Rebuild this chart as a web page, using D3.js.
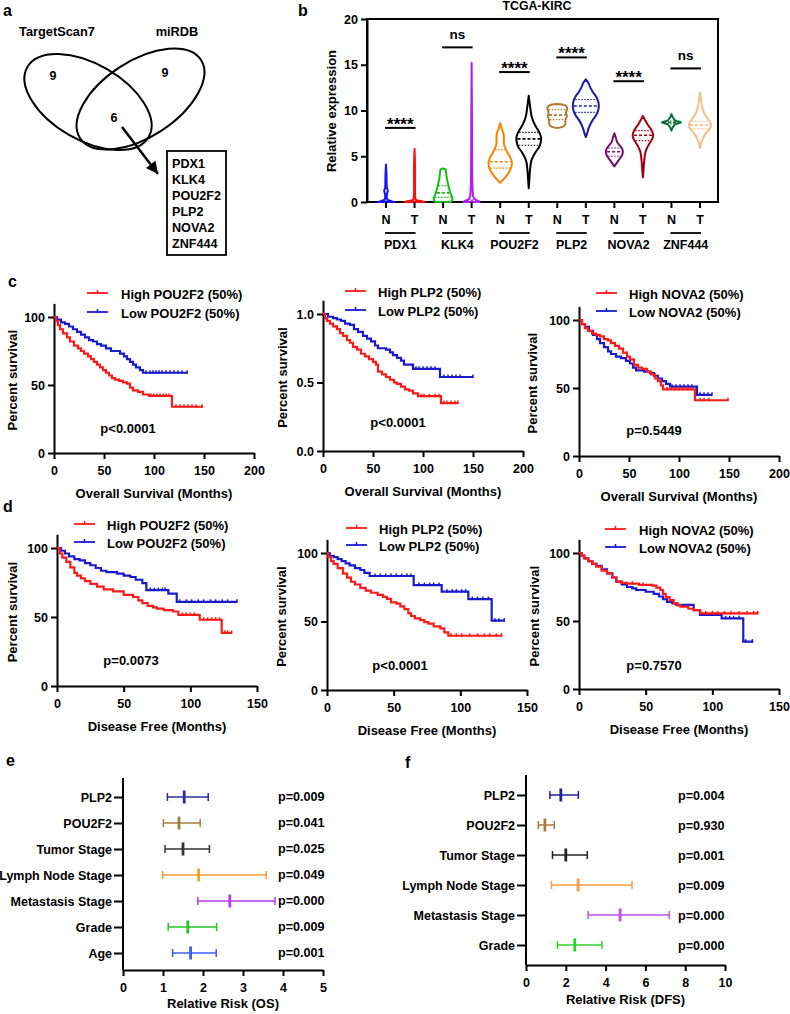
<!DOCTYPE html>
<html><head><meta charset="utf-8">
<script src="https://cdn.jsdelivr.net/npm/d3@7"></script>
<style>
body{margin:0;background:#fff;}
svg{display:block;font-family:"Liberation Sans",Arial,sans-serif;font-weight:bold;}
</style></head><body>
<svg id="chart" width="790" height="1014"></svg>
<script>
// ---------------- DATA ----------------
const vennSets = ["TargetScan7", "miRDB"];
const vennCounts = [9, 9, 6];
const vennGenes = ["PDX1", "KLK4", "POU2F2", "PLP2", "NOVA2", "ZNF444"];

const exprTitle = "TCGA-KIRC";
const exprGenes = ["PDX1", "KLK4", "POU2F2", "PLP2", "NOVA2", "ZNF444"];
const exprConds = ["N", "T"];
const exprTicks = [0, 5, 10, 15, 20];
const violinColors = ["#1414ff", "#ff1010", "#10c010", "#b01ef0", "#ff8000", "#000000",
                      "#b07830", "#1c1c9c", "#720f72", "#a00010", "#0a6e3c", "#f8c088"];
// [value, relative density]
const violinDensity = [
  [[0,0.65],[0.1,0.4],[0.25,0.12],[0.5,0.06],[0.9,0.08],[1.25,0.14],[1.55,0.07],[2,0.05],[3,0.04],[4.1,0]],
  [[0,0.77],[0.1,0.5],[0.25,0.1],[0.6,0.05],[2,0.04],[4,0.04],[5.8,0]],
  [[0,0.6],[0.3,0.72],[0.6,0.68],[1.0,0.55],[1.3,0.5],[1.7,0.42],[2.1,0.36],[2.5,0.3],[2.9,0.26],[3.3,0.22],[3.55,0.2],[3.65,0]],
  [[0,0.62],[0.1,0.55],[0.3,0.25],[0.6,0.12],[1,0.09],[1.6,0.07],[2.5,0.05],[4,0.04],[8,0.03],[15.2,0]],
  [[2.1,0],[2.4,0.2],[2.8,0.45],[3.3,0.7],[3.8,0.85],[4.3,0.9],[4.8,0.8],[5.3,0.6],[5.8,0.42],[6.3,0.3],[6.8,0.28],[7.3,0.28],[7.7,0.2],[8.1,0.1],[8.6,0]],
  [[1.5,0],[2.5,0.05],[3.5,0.1],[4.5,0.2],[5.0,0.35],[5.5,0.55],[6.0,0.8],[6.5,0.92],[7.0,0.95],[7.5,0.85],[8.0,0.65],[8.5,0.45],[9.0,0.3],[9.5,0.2],[10.5,0.1],[11.6,0]],
  [[8.1,0],[8.25,0.45],[8.5,0.62],[8.8,0.62],[9.1,0.66],[9.4,0.74],[9.7,0.66],[10.0,0.72],[10.3,0.76],[10.55,0.6],[10.7,0]],
  [[7.1,0],[7.5,0.1],[8.0,0.2],[8.5,0.35],[9.0,0.55],[9.5,0.8],[10.0,0.95],[10.5,1.0],[11.0,0.95],[11.5,0.8],[12.0,0.55],[12.5,0.35],[13.0,0.2],[13.4,0]],
  [[3.9,0],[4.2,0.15],[4.6,0.35],[5.0,0.55],[5.4,0.65],[5.8,0.6],[6.2,0.4],[6.6,0.2],[7.0,0.12],[7.5,0]],
  [[2.7,0],[3.5,0.05],[4.5,0.1],[5.5,0.2],[6.0,0.35],[6.5,0.55],[7.0,0.75],[7.5,0.77],[8.0,0.6],[8.5,0.35],[9.0,0.15],[9.4,0]],
  [[7.8,0],[8.2,0.12],[8.5,0.3],[8.7,0.73],[8.9,0.3],[9.2,0.12],[9.6,0]],
  [[5.9,0],[6.5,0.1],[7.0,0.25],[7.5,0.45],[8.0,0.75],[8.4,0.85],[8.8,0.75],[9.3,0.5],[9.8,0.3],[10.5,0.15],[11.2,0.08],[12.0,0]]
];
// [q1, median, q3]
const violinQuartiles = [
  [0.02,0.05,0.1],[0.02,0.05,0.1],[0.5,1.0,1.8],[0.05,0.1,0.3],
  [3.7,4.4,5.7],[6.2,6.9,7.6],[9.0,9.5,10.1],[9.8,10.5,11.2],
  [5.0,5.5,5.9],[6.7,7.3,7.8],[8.55,8.7,8.85],[8.0,8.4,8.8]
];
const sigLabels = ["****", "ns", "****", "****", "****", "ns"];
const sigLevel = [8.1, 16.9, 14.2, 15.8, 13.2, 14.6];

// Kaplan-Meier: [months, survival]
const osPOU2F2High = [[0,100],[2,97],[4,94],[6,91],[9,88],[13,85],[16,82],[20,79],[24,77],[27,75],[30,73],[34,71],[37,69],[40,67],[43,65],[46,63],[49,61],[52,59],[55,57],[58,55],[61,54],[65,53],[69,52],[73,51],[76,48],[79,46],[84,45],[89,43],[95,42],[118,34],[149,34]];
const osPOU2F2Low = [[0,100],[3,98],[7,96],[11,95],[15,93],[19,91],[23,89],[27,87],[31,85],[35,83],[39,82],[43,80],[47,79],[52,77],[57,75],[66,73],[70,71],[73,69],[76,67],[79,65],[82,63],[86,61],[89,59],[134,59]];
const osPOU2F2HighCens = [97,100,103,106,109,112,115,122,126,130,134,138,142,148];
const osPOU2F2LowCens = [92,96,99,102,105,108,112,116,120,124,128,133];
const osPLP2High = [[0,1.0],[2,0.97],[4,0.95],[7,0.93],[10,0.91],[14,0.89],[17,0.86],[20,0.84],[24,0.81],[27,0.79],[30,0.76],[34,0.74],[38,0.71],[42,0.69],[46,0.67],[50,0.65],[53,0.63],[55,0.58],[59,0.56],[63,0.54],[67,0.52],[71,0.50],[74,0.49],[78,0.47],[82,0.45],[86,0.44],[90,0.42],[95,0.40],[118,0.35],[135,0.35]];
const osPLP2Low = [[0,1.0],[5,0.98],[10,0.97],[14,0.96],[18,0.95],[22,0.93],[27,0.92],[31,0.89],[35,0.87],[40,0.84],[44,0.82],[48,0.80],[52,0.77],[55,0.75],[63,0.74],[67,0.72],[70,0.70],[74,0.68],[78,0.66],[81,0.63],[90,0.60],[117,0.54],[150,0.54]];
const osPLP2HighCens = [98,101,106,112,116,121,124,128,132,135];
const osPLP2LowCens = [93,96,100,104,108,112,121,125,129,133,137,150];
const osNOVA2High = [[0,100],[3,97],[6,94],[9,92],[13,90],[17,89],[21,88],[25,86],[29,85],[32,83],[36,81],[40,79],[44,76],[48,73],[51,71],[55,67],[59,65],[63,64],[68,62],[72,60],[76,57],[79,55],[82,52],[84,49],[116,41],[149,41]];
const osNOVA2Low = [[0,100],[3,97],[6,95],[10,92],[14,89],[18,86],[21,83],[25,80],[29,77],[32,75],[37,73],[42,72],[47,70],[51,68],[54,65],[57,63],[65,62],[71,61],[75,59],[79,57],[83,55],[87,53],[91,51],[118,45],[133,45]];
const osNOVA2HighCens = [88,92,96,100,104,108,112,121,125,130,149];
const osNOVA2LowCens = [93,97,101,105,109,113,121,125,129,133];

const dfsPOU2F2High = [[0,100],[2,96],[4,93],[7,90],[10,86],[13,82],[15,80],[18,78],[21,76],[25,74],[30,72],[35,70],[42,68.5],[50,66],[57,64.5],[61,62],[64,60],[68,58],[72,57],[75,56],[80,55],[87,54],[91,51.5],[107,48],[123.5,38.5],[131,38.5]];
const dfsPOU2F2Low = [[0,100],[3,98],[6,96],[9,94],[13,92],[17,91],[21,89],[25,87.5],[29,85.5],[33,83.5],[37,82.5],[45,81.5],[50,80],[55,79],[59,77],[64,74.5],[67,69.5],[83.5,67],[89.8,61],[135,61]];
const dfsPOU2F2HighCens = [94,97,100,103,110,113,116,119,122,126,128,131];
const dfsPOU2F2LowCens = [70,73,76,79,81,92,97,101,106,110,115,119,124,128,135];
const dfsPLP2High = [[0,100],[1,97],[3,94],[5,92],[8,89],[12,85],[15,82],[18,79],[21,77],[25,74.5],[29,72.5],[33,71],[38,69.5],[42,68],[45,66.5],[48,64],[52,63],[55,61],[58,59],[61,56],[63,54],[66,52.3],[70,51],[73,49.5],[76,48.5],[80,46.5],[85,45],[88,42],[91,39.6],[131,39.6]];
const dfsPLP2Low = [[0,100],[2,98],[5,97],[8,95.5],[11,94],[14,92.5],[17,91],[21,89],[25,87.6],[28,85.5],[32,83.2],[65,76.6],[86,71.8],[106,66.4],[123.5,50.6],[133.5,50.6]];
const dfsPLP2HighCens = [93,97,101,107,113,118,122,127,131];
const dfsPLP2LowCens = [36,40,44,48,52,56,60,63,69,73,77,80,84,90,94,97,101,104,109,113,117,121,126,129,133];
const dfsNOVA2High = [[0,100],[2,98],[4,96],[7,94],[10,92],[13,90],[17,87],[21,85],[25,82],[28,79],[32,78],[36,77.5],[45,76.5],[55,76],[58,74.5],[61,72.8],[63,70],[65,67.5],[68,65.4],[71,63],[74,61.5],[76,60.5],[82,59],[86,58],[91,55.6],[134.5,55.6]];
const dfsNOVA2Low = [[0,100],[2,98],[4,96],[7,94],[10,92],[13,90.5],[17,88],[21,85],[25,82],[28,79],[32,77],[36,75],[40,74],[43,72.8],[50,71.5],[56,70],[60,68],[63,66],[66,64],[70,63],[73,61.8],[86,58],[90.7,54.4],[107,52],[123.2,34.8],[130.7,34.8]];
const dfsNOVA2HighCens = [40,48,95,100,104,109,114,120,126,131,134];
const dfsNOVA2LowCens = [92,96,100,104,110,113,116,120,125,130];

const osFactors = ["PLP2", "POU2F2", "Tumor Stage", "Lymph Node Stage", "Metastasis Stage", "Grade", "Age"];
const osRR = [1.53, 1.40, 1.50, 1.89, 2.67, 1.62, 1.69];
const osLow = [1.11, 1.01, 1.05, 0.99, 1.87, 1.13, 1.24];
const osHigh = [2.13, 1.93, 2.16, 3.58, 3.80, 2.34, 2.33];
const osP = ["p=0.009", "p=0.041", "p=0.025", "p=0.049", "p=0.000", "p=0.009", "p=0.001"];
const osColors = ["#2b2b9b", "#a67c3c", "#333333", "#ff9a30", "#b63ae8", "#22c422", "#3c5cff"];
const osTicks = [0, 1, 2, 3, 4, 5];

const dfsFactors = ["PLP2", "POU2F2", "Tumor Stage", "Lymph Node Stage", "Metastasis Stage", "Grade"];
const dfsRR = [1.75, 0.95, 2.0, 2.62, 4.73, 2.45];
const dfsLow = [1.2, 0.62, 1.33, 1.28, 3.12, 1.58];
const dfsHigh = [2.63, 1.42, 3.08, 5.33, 7.2, 3.82];
const dfsP = ["p=0.004", "p=0.930", "p=0.001", "p=0.009", "p=0.000", "p=0.000"];
const dfsColors = ["#1f1f95", "#a67c3c", "#222222", "#ff9a40", "#c050f0", "#30d030"];
const dfsTicks = [0, 2, 4, 6, 8, 10];

// ---------------- DRAW ----------------
const svg = d3.select("#chart");
const RED = "#ff1a1a", BLUE = "#1a1acc";
const FS = 13;

function panelLabel(t, x, y) {
  svg.append("text").attr("x", x).attr("y", y).attr("font-size", 16).text(t);
}
function styleAxis(g, fs) {
  g.selectAll("path.domain").attr("stroke", "#000").attr("stroke-width", 2);
  g.selectAll(".tick line").attr("stroke", "#000").attr("stroke-width", 2);
  g.selectAll(".tick text").attr("fill", "#000").attr("font-size", fs || 12)
    .attr("font-family", '"Liberation Sans",Arial,sans-serif').attr("font-weight", "bold");
}

// ---- panel a: Venn ----
panelLabel("a", 3, 16);
svg.append("text").attr("x", 57).attr("y", 36).attr("text-anchor", "middle").attr("font-size", 12.8).text(vennSets[0]);
svg.append("text").attr("x", 177).attr("y", 36).attr("text-anchor", "middle").attr("font-size", 12.8).text(vennSets[1]);
svg.append("ellipse").attr("cx", 0).attr("cy", 0).attr("rx", 70).attr("ry", 38)
  .attr("transform", "translate(88,102) rotate(30)").attr("fill", "none").attr("stroke", "#000").attr("stroke-width", 2);
svg.append("ellipse").attr("cx", 0).attr("cy", 0).attr("rx", 72).attr("ry", 38)
  .attr("transform", "translate(140.5,99) rotate(-33)").attr("fill", "none").attr("stroke", "#000").attr("stroke-width", 2);
[[53, 80], [165, 77], [114, 122]].forEach((p, i) => {
  svg.append("text").attr("x", p[0]).attr("y", p[1]).attr("text-anchor", "middle").attr("font-size", 12.5).text(vennCounts[i]);
});
const defs = svg.append("defs");
defs.append("marker").attr("id", "ah").attr("viewBox", "0 0 10 10").attr("refX", 10).attr("refY", 5)
  .attr("markerWidth", 14).attr("markerHeight", 12).attr("markerUnits", "userSpaceOnUse").attr("orient", "auto")
  .append("path").attr("d", "M0,0L10,5L0,10z").attr("fill", "#000");
svg.append("line").attr("x1", 122).attr("y1", 127).attr("x2", 158).attr("y2", 174)
  .attr("stroke", "#000").attr("stroke-width", 2.5).attr("marker-end", "url(#ah)");
svg.append("rect").attr("x", 167).attr("y", 151).attr("width", 59).attr("height", 104)
  .attr("fill", "none").attr("stroke", "#000").attr("stroke-width", 1.8);
vennGenes.forEach((g, i) => {
  svg.append("text").attr("x", 172).attr("y", 168 + i * 15.9).attr("font-size", 12.6).text(g);
});

// ---- panel b: violins ----
panelLabel("b", 298, 16);
const bx = d3.scalePoint().domain(d3.range(12)).range([386, 700]);
const by = d3.scaleLinear().domain([0, 20]).range([202, 19]);
const bw = d3.scaleLinear().domain([0, 1]).range([0, 13]);
svg.append("text").attr("x", 537).attr("y", 10).attr("text-anchor", "middle").attr("font-size", 12.3).text(exprTitle);
svg.append("rect").attr("x", 367).attr("y", 19).attr("width", 351).attr("height", 183)
  .attr("fill", "none").attr("stroke", "#000").attr("stroke-width", 2);
const byAx = svg.append("g").attr("transform", "translate(367,0)")
  .call(d3.axisLeft(by).tickValues(exprTicks).tickFormat(d3.format("d")).tickSize(6).tickPadding(3).tickSizeOuter(0));
styleAxis(byAx, 12.5);
svg.append("text").attr("transform", "translate(336,111) rotate(-90)").attr("text-anchor", "middle")
  .attr("font-size", FS).text("Relative expression");

function densAt(dens, v) {
  for (let k = 0; k < dens.length - 1; k++) {
    const a = dens[k], b = dens[k + 1];
    if (v >= a[0] && v <= b[0]) return a[1] + (b[1] - a[1]) * (v - a[0]) / (b[0] - a[0]);
  }
  return 0;
}
violinDensity.forEach((dens, i) => {
  const cx = bx(i), col = violinColors[i];
  const area = d3.area().curve(d3.curveCatmullRom.alpha(0.5))
    .y(d => by(d[0])).x0(d => cx - bw(d[1])).x1(d => cx + bw(d[1]));
  svg.append("path").attr("d", area(dens)).attr("fill", "#fff").attr("stroke", col)
    .attr("stroke-width", 2).attr("stroke-linejoin", "round");
  violinQuartiles[i].forEach((q, k) => {
    const w = bw(densAt(dens, q));
    if (w < 1.5) return;
    svg.append("line").attr("x1", cx - w + 1).attr("x2", cx + w - 1).attr("y1", by(q)).attr("y2", by(q))
      .attr("stroke", col).attr("stroke-width", k === 1 ? 1.6 : 1.2)
      .attr("stroke-dasharray", k === 1 ? "3,2" : "1.5,1.5");
  });
  svg.append("line").attr("x1", cx).attr("x2", cx).attr("y1", 202).attr("y2", 208)
    .attr("stroke", "#000").attr("stroke-width", 2);
  svg.append("text").attr("x", cx).attr("y", 224).attr("text-anchor", "middle").attr("font-size", 12.5)
    .text(exprConds[i % 2]);
});
exprGenes.forEach((g, j) => {
  const xN = bx(2 * j), xT = bx(2 * j + 1), xm = (xN + xT) / 2;
  svg.append("line").attr("x1", xN - 1).attr("x2", xT + 1).attr("y1", 233).attr("y2", 233)
    .attr("stroke", "#000").attr("stroke-width", 1.8);
  svg.append("text").attr("x", xm).attr("y", 249).attr("text-anchor", "middle").attr("font-size", 12.5).text(g);
  const ly = by(sigLevel[j]);
  svg.append("line").attr("x1", xN - 1).attr("x2", xT + 1).attr("y1", ly).attr("y2", ly)
    .attr("stroke", "#000").attr("stroke-width", 2);
  if (sigLabels[j] === "ns") {
    svg.append("text").attr("x", xm).attr("y", ly - 8).attr("text-anchor", "middle").attr("font-size", 13.5).text("ns");
  } else {
    svg.append("text").attr("x", xm).attr("y", ly + 2).attr("text-anchor", "middle").attr("font-size", 17).text(sigLabels[j]);
  }
});

// ---- panels c, d: Kaplan-Meier ----
function stepAt(curve, t) {
  let s = curve[0][1];
  for (const p of curve) { if (p[0] <= t) s = p[1]; }
  return s;
}
function kmPanel(c) {
  const x = d3.scaleLinear().domain([0, c.xMax]).range(c.xr);
  const y = d3.scaleLinear().domain([0, c.yMax]).range(c.yr);
  const g = svg.append("g");
  const xa = g.append("g").attr("transform", `translate(0,${c.yr[0]})`)
    .call(d3.axisBottom(x).tickValues(c.xTicks).tickFormat(d3.format("d")).tickSize(6).tickPadding(7).tickSizeOuter(0));
  styleAxis(xa, 12.5);
  const ya = g.append("g").attr("transform", `translate(${c.xr[0]},0)`)
    .call(d3.axisLeft(y).tickValues(c.yTicks).tickFormat(c.yFmt).tickSize(6).tickPadding(3).tickSizeOuter(0));
  styleAxis(ya, 12.5);
  const line = d3.line().curve(d3.curveStepAfter).x(d => x(d[0])).y(d => y(d[1]));
  [[c.low, c.lowCens, BLUE], [c.high, c.highCens, RED]].forEach(([cur, cens, col]) => {
    g.append("path").attr("d", line(cur)).attr("fill", "none").attr("stroke", col).attr("stroke-width", 2.2);
    cens.forEach(t => {
      const yy = y(stepAt(cur, t));
      g.append("line").attr("x1", x(t)).attr("x2", x(t)).attr("y1", yy - 2.5).attr("y2", yy + 1)
        .attr("stroke", col).attr("stroke-width", 1.5);
    });
  });
  // legend
  [[c.labels[0], RED, 0], [c.labels[1], BLUE, 1]].forEach(([lab, col, k]) => {
    const ly = c.leg[1] + k * c.leg[3];
    g.append("line").attr("x1", c.leg[0]).attr("x2", c.leg[0] + 21).attr("y1", ly).attr("y2", ly)
      .attr("stroke", col).attr("stroke-width", 1.8);
    g.append("line").attr("x1", c.leg[0] + 10.5).attr("x2", c.leg[0] + 10.5).attr("y1", ly - 3).attr("y2", ly + 1)
      .attr("stroke", col).attr("stroke-width", 1.5);
    g.append("text").attr("x", c.leg[2]).attr("y", ly + 6).attr("font-size", FS).text(lab);
  });
  g.append("text").attr("x", c.pPos[0]).attr("y", c.pPos[1]).attr("text-anchor", "middle").attr("font-size", FS).text(c.p);
  g.append("text").attr("x", (c.xr[0] + c.xr[1]) / 2).attr("y", c.yr[0] + 45).attr("text-anchor", "middle")
    .attr("font-size", FS).text(c.xTitle);
  g.append("text").attr("transform", `translate(${c.yTitleX},${(c.yr[0] + c.yr[1]) / 2 + 2}) rotate(-90)`)
    .attr("text-anchor", "middle").attr("font-size", FS).text("Percent survival");
}
const fmtInt = d3.format("d"), fmt1 = d3.format(".1f");
panelLabel("c", 8, 287);
kmPanel({xMax: 200, xr: [54, 254], yMax: 110, yr: [453, 303.4], xTicks: [0, 50, 100, 150, 200], yTicks: [0, 50, 100], yFmt: fmtInt,
  high: osPOU2F2High, low: osPOU2F2Low, highCens: osPOU2F2HighCens, lowCens: osPOU2F2LowCens,
  labels: ["High POU2F2 (50%)", "Low POU2F2 (50%)"], leg: [87, 293, 121, 19],
  p: "p<0.0001", pPos: [128, 433], xTitle: "Overall Survival (Months)", yTitleX: 17});
kmPanel({xMax: 200, xr: [323, 523], yMax: 1.1, yr: [451, 300.3], xTicks: [0, 50, 100, 150, 200], yTicks: [0, 0.5, 1.0], yFmt: fmt1,
  high: osPLP2High, low: osPLP2Low, highCens: osPLP2HighCens, lowCens: osPLP2LowCens,
  labels: ["High PLP2 (50%)", "Low PLP2 (50%)"], leg: [345, 291, 378, 19],
  p: "p<0.0001", pPos: [398, 427], xTitle: "Overall Survival (Months)", yTitleX: 287});
kmPanel({xMax: 200, xr: [579, 779], yMax: 110, yr: [456, 306.4], xTicks: [0, 50, 100, 150, 200], yTicks: [0, 50, 100], yFmt: fmtInt,
  high: osNOVA2High, low: osNOVA2Low, highCens: osNOVA2HighCens, lowCens: osNOVA2LowCens,
  labels: ["High NOVA2 (50%)", "Low NOVA2 (50%)"], leg: [596, 293, 629, 18],
  p: "p=0.5449", pPos: [654, 435], xTitle: "Overall Survival (Months)", yTitleX: 537});
panelLabel("d", 3, 512);
kmPanel({xMax: 150, xr: [57, 257], yMax: 110, yr: [686, 534.2], xTicks: [0, 50, 100, 150], yTicks: [0, 50, 100], yFmt: fmtInt,
  high: dfsPOU2F2High, low: dfsPOU2F2Low, highCens: dfsPOU2F2HighCens, lowCens: dfsPOU2F2LowCens,
  labels: ["High POU2F2 (50%)", "Low POU2F2 (50%)"], leg: [74, 524, 107, 18],
  p: "p=0.0073", pPos: [131, 665], xTitle: "Disease Free (Months)", yTitleX: 17});
kmPanel({xMax: 150, xr: [327, 527], yMax: 110, yr: [690, 539.3], xTicks: [0, 50, 100, 150], yTicks: [0, 50, 100], yFmt: fmtInt,
  high: dfsPLP2High, low: dfsPLP2Low, highCens: dfsPLP2HighCens, lowCens: dfsPLP2LowCens,
  labels: ["High PLP2 (50%)", "Low PLP2 (50%)"], leg: [346, 528, 379, 17],
  p: "p<0.0001", pPos: [400, 670], xTitle: "Disease Free (Months)", yTitleX: 286});
kmPanel({xMax: 150, xr: [579, 779], yMax: 110, yr: [689, 539.4], xTicks: [0, 50, 100, 150], yTicks: [0, 50, 100], yFmt: fmtInt,
  high: dfsNOVA2High, low: dfsNOVA2Low, highCens: dfsNOVA2HighCens, lowCens: dfsNOVA2LowCens,
  labels: ["High NOVA2 (50%)", "Low NOVA2 (50%)"], leg: [605, 529, 639, 18],
  p: "p=0.7570", pPos: [654, 670], xTitle: "Disease Free (Months)", yTitleX: 539});

// ---- panels e, f: forest plots ----
function forest(c) {
  const x = d3.scaleLinear().domain(c.xDom).range(c.xr);
  const y = d3.scalePoint().domain(c.factors).range(c.rows);
  const g = svg.append("g");
  const xa = g.append("g").attr("transform", `translate(0,${c.axisY})`)
    .call(d3.axisBottom(x).tickValues(c.ticks).tickFormat(d3.format("d")).tickSize(6).tickPadding(7).tickSizeOuter(0));
  styleAxis(xa, 12.5);
  g.append("line").attr("x1", c.xr[0]).attr("x2", c.xr[0]).attr("y1", c.top).attr("y2", c.axisY)
    .attr("stroke", "#000").attr("stroke-width", 2);
  const ya = g.append("g").attr("transform", `translate(${c.xr[0]},0)`)
    .call(d3.axisLeft(y).tickSize(9).tickPadding(2).tickSizeOuter(0));
  ya.select("path.domain").remove();
  styleAxis(ya, 12.5);
  c.factors.forEach((f, i) => {
    const yy = y(f), col = c.colors[i];
    g.append("line").attr("x1", x(c.low[i])).attr("x2", x(c.high[i])).attr("y1", yy).attr("y2", yy)
      .attr("stroke", col).attr("stroke-width", 1.5);
    [c.low[i], c.high[i]].forEach(v => {
      g.append("line").attr("x1", x(v)).attr("x2", x(v)).attr("y1", yy - 4).attr("y2", yy + 4)
        .attr("stroke", col).attr("stroke-width", 1.5);
    });
    g.append("line").attr("x1", x(c.rr[i])).attr("x2", x(c.rr[i])).attr("y1", yy - 6.5).attr("y2", yy + 6.5)
      .attr("stroke", col).attr("stroke-width", 2.8);
    g.append("text").attr("x", c.pX).attr("y", yy + c.pDy).attr("font-size", 12.6).text(c.p[i]);
  });
  g.append("text").attr("x", (c.xr[0] + c.xr[1]) / 2).attr("y", c.titleY).attr("text-anchor", "middle")
    .attr("font-size", FS).text(c.title);
}
panelLabel("e", 6, 766);
forest({xDom: [0, 5], xr: [123, 323], factors: osFactors, rows: [797, 953], axisY: 970, top: 778, ticks: osTicks,
  colors: osColors, low: osLow, high: osHigh, rr: osRR, p: osP, pX: 278, pDy: 3.5, titleY: 1008, title: "Relative Risk (OS)"});
panelLabel("f", 405, 768);
forest({xDom: [0, 10], xr: [526, 725], factors: dfsFactors, rows: [795, 945], axisY: 965, top: 775, ticks: dfsTicks,
  colors: dfsColors, low: dfsLow, high: dfsHigh, rr: dfsRR, p: dfsP, pX: 678, pDy: 4.5, titleY: 1004, title: "Relative Risk (DFS)"});
</script>
</body></html>
